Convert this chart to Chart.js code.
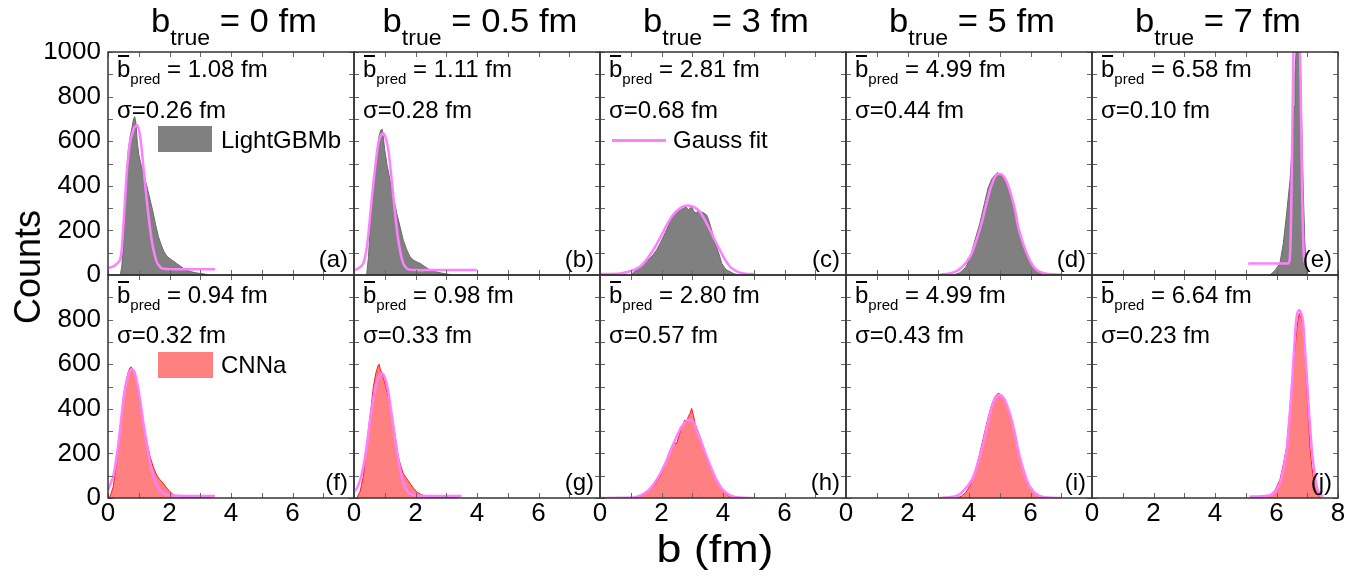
<!DOCTYPE html>
<html>
<head>
<meta charset="utf-8">
<script src="https://cdn.jsdelivr.net/npm/chart.js@4.4.1/dist/chart.umd.min.js"></script>
<style>
  body { margin: 0; background: #fff; }
  #wrap { position: relative; width: 1372px; height: 577px; overflow: hidden;
          font-family: 'Liberation Sans', Arial, Helvetica, sans-serif; color: #000; }
  #wrap canvas { position: absolute; }
  .txt { position: absolute; white-space: nowrap; line-height: 1; }
  .title { font-size: 33px; text-align: center; transform: scaleX(1.05); transform-origin: 50% 0; }
  .tsub { font-size: 22px; position: relative; top: 13px; }
  .note { font-size: 24px; }
  .ob { position: relative; }
  .ob::before { content: ''; position: absolute; left: 1px; right: 1px; top: 0; border-top: 2px solid #000; }
  .psub { font-size: 15px; position: relative; top: 7px; }
  .letter { font-size: 24px; text-align: right; }
  .box { position: absolute; }
</style>
</head>
<body>
<div id="wrap"></div>
<script>
// ---- data: b (fm) and counts ----
const bTrue = ['0', '0.5', '3', '5', '7'];
const meanTop = ['1.08', '1.11', '2.81', '4.99', '6.58'];
const sigmaTop = ['0.26', '0.28', '0.68', '0.44', '0.10'];
const meanBottom = ['0.94', '0.98', '2.80', '4.99', '6.64'];
const sigmaBottom = ['0.32', '0.33', '0.57', '0.43', '0.23'];
const lettersTop = ['a', 'b', 'c', 'd', 'e'];
const lettersBottom = ['f', 'g', 'h', 'i', 'j'];
const xTicks = [0, 2, 4, 6, 8];
const yTicks = [0, 200, 400, 600, 800, 1000];

// LightGBMb histograms + Gauss fits (top row)
const aHistX = [0.40,0.45,0.50,0.55,0.61,0.66,0.72,0.78,0.83,0.87,0.91,0.95,1.00,1.09,1.18,1.27,1.37,1.46,1.55,1.64,1.73,1.82,1.91,2.00,2.10,2.23,2.35,2.45,2.56,2.70,2.85,3.00,3.15,3.30];
const aHistY = [0,40,130,290,460,560,620,660,700,710,680,600,540,486,440,395,336,285,225,172,135,105,85,75,65,52,40,30,22,15,10,7,4,0];
const aFitX = [0.00,0.20,0.39,0.45,0.50,0.55,0.61,0.67,0.72,0.77,0.85,0.95,1.02,1.09,1.17,1.26,1.34,1.42,1.50,1.58,1.66,1.75,1.90,2.20,2.60,3.00,3.48];
const aFitY = [30,40,67,120,217,330,460,545,600,625,660,672,640,570,460,336,240,157,100,60,42,30,27,26,26,26,26];

const bHistX = [0.41,0.47,0.52,0.58,0.63,0.68,0.74,0.81,0.87,0.92,0.96,1.00,1.08,1.17,1.28,1.39,1.50,1.60,1.71,1.82,1.95,2.05,2.15,2.30,2.47,2.65,2.80,3.00,3.20];
const bHistY = [0,80,200,320,400,456,540,620,650,653,610,560,490,426,350,277,215,157,115,82,65,58,52,38,22,15,10,5,0];
const bFitX = [0.00,0.15,0.30,0.40,0.47,0.55,0.63,0.71,0.79,0.87,0.95,1.03,1.12,1.20,1.28,1.36,1.44,1.52,1.60,1.68,1.77,2.00,2.50,3.00,3.50,3.99];
const bFitY = [22,30,52,110,187,300,411,510,590,625,635,615,560,460,351,245,157,95,52,35,25,22,22,22,22,22];

const cHistX = [0.98,1.10,1.30,1.45,1.63,1.75,1.84,1.95,2.06,2.17,2.28,2.38,2.49,2.60,2.71,2.80,2.87,2.93,2.98,3.05,3.14,3.20,3.25,3.35,3.47,3.55,3.63,3.71,3.79,3.88,3.96,4.04,4.12,4.23,4.34,4.50];
const cHistY = [0,12,37,55,75,95,112,140,172,205,239,262,277,290,299,305,291,300,306,285,277,295,284,280,269,240,202,165,127,90,52,35,22,15,7,0];
const cFitX = [0.00,0.65,1.00,1.30,1.52,1.73,1.95,2.17,2.38,2.60,2.76,2.93,3.09,3.25,3.42,3.58,3.74,3.90,4.06,4.23,4.40,4.55,4.75,5.00];
const cFitY = [4,7,18,37,70,112,165,224,270,299,310,311,302,284,245,202,155,112,70,37,20,10,6,4];

const dHistX = [3.50,3.70,3.90,4.05,4.20,4.35,4.50,4.62,4.74,4.85,4.93,4.96,5.00,5.08,5.17,5.28,5.39,5.50,5.60,5.72,5.85,6.00,6.15,6.30,6.50];
const dHistY = [0,10,35,85,160,230,320,390,430,450,460,452,455,448,430,395,351,290,217,150,100,55,30,12,0];
const dFitX = [3.06,3.40,3.65,3.90,4.09,4.25,4.41,4.55,4.68,4.78,4.85,4.93,5.01,5.09,5.17,5.28,5.39,5.50,5.60,5.74,5.88,6.00,6.15,6.30,6.48,6.75,7.01];
const dFitY = [2,8,22,55,97,160,232,310,381,420,441,452,453,448,434,400,351,290,217,150,97,60,30,15,7,3,2];

const eHistX = [5.79,5.95,6.11,6.22,6.33,6.44,6.52,6.57,6.60,6.64,6.70,6.76,6.80,6.84,6.87,6.92,6.98];
const eHistY = [0,20,52,140,277,425,605,755,904,1010,1150,1080,820,560,380,150,0];
const eFitX = [5.08,5.50,6.00,6.38,6.42,6.45,6.48,6.51,6.54,6.57,6.62,6.67,6.72,6.76,6.79,6.82,6.85,6.88,6.91,6.95];
const eFitY = [52,52,52,52,60,120,300,600,900,1150,1400,1450,1300,1050,800,500,250,110,60,52];

// CNNa histograms + Gauss fits (bottom row)
const fHistX = [0.04,0.10,0.17,0.25,0.34,0.42,0.50,0.58,0.66,0.72,0.75,0.80,0.88,0.94,0.99,1.07,1.15,1.26,1.37,1.47,1.58,1.69,1.80,1.91,2.02,2.12,2.23,2.40,2.60,2.80,3.00,3.20,3.40];
const fHistY = [0,20,51,130,245,350,454,520,566,585,588,575,559,520,469,400,335,255,185,140,103,82,66,45,28,15,9,4,2,3,3,2,0];
const fFitX = [0.00,0.17,0.34,0.42,0.50,0.58,0.66,0.72,0.79,0.86,0.93,1.01,1.09,1.17,1.26,1.34,1.42,1.50,1.58,1.69,1.80,2.02,2.50,3.00,3.48];
const fFitY = [36,96,245,345,439,510,552,572,578,565,529,470,395,320,245,180,126,88,58,35,21,12,9,9,9];

const gHistX = [0.09,0.20,0.30,0.39,0.47,0.55,0.63,0.71,0.79,0.82,0.85,0.90,0.95,1.03,1.12,1.20,1.28,1.36,1.44,1.52,1.60,1.71,1.82,1.93,2.04,2.15,2.25,2.40,2.58,2.80,3.00,3.20,3.40];
const gHistY = [0,30,96,200,305,400,499,560,596,600,581,560,544,500,454,400,335,260,185,145,111,88,66,45,28,18,12,6,3,3,3,2,0];
const gFitX = [0.00,0.10,0.20,0.28,0.36,0.44,0.52,0.60,0.68,0.76,0.85,0.92,0.99,1.06,1.14,1.22,1.30,1.39,1.47,1.55,1.63,1.71,1.82,1.93,2.20,2.60,3.00,3.50];
const gFitY = [28,45,81,125,185,260,350,420,484,530,552,559,545,514,455,380,300,215,150,96,60,36,20,13,10,9,9,9];

const hHistX = [1.08,1.25,1.41,1.57,1.73,1.84,1.95,2.06,2.17,2.25,2.33,2.41,2.49,2.57,2.66,2.71,2.76,2.82,2.87,2.93,2.98,3.04,3.09,3.17,3.25,3.33,3.41,3.50,3.58,3.66,3.74,3.82,3.90,3.98,4.07,4.15,4.23,4.40];
const hHistY = [0,6,13,30,51,72,96,130,170,205,230,245,245,280,320,335,350,340,365,380,402,370,335,305,275,240,200,170,141,115,96,72,51,35,21,12,6,0];
const hFitX = [0.00,1.08,1.30,1.52,1.68,1.84,2.00,2.17,2.33,2.49,2.65,2.82,2.93,3.04,3.14,3.30,3.47,3.63,3.79,3.95,4.12,4.28,4.45,4.70,4.99];
const hFitY = [0,2,10,28,50,81,120,170,225,275,320,347,350,342,305,250,185,130,81,45,21,9,3,1,0];

const iHistX = [3.60,3.75,3.90,4.05,4.20,4.35,4.50,4.62,4.74,4.85,4.95,5.01,5.08,5.17,5.28,5.39,5.50,5.60,5.74,5.88,6.00,6.15,6.30,6.45];
const iHistY = [0,8,25,60,120,200,290,360,420,455,470,465,458,440,400,350,290,215,145,82,50,25,10,0];
const iFitX = [3.06,3.40,3.65,3.90,4.09,4.25,4.41,4.55,4.68,4.78,4.85,4.93,5.01,5.09,5.17,5.28,5.39,5.50,5.60,5.74,5.88,6.00,6.15,6.30,6.48,6.75,7.01];
const iFitY = [0,4,13,45,81,140,215,300,380,425,447,458,462,455,439,400,350,285,215,140,81,45,21,9,3,1,0];

const jHistX = [5.14,5.50,5.79,5.95,6.11,6.22,6.33,6.41,6.49,6.58,6.66,6.70,6.74,6.80,6.87,6.93,6.98,7.04,7.09,7.15,7.22,7.30,7.41,7.46];
const jHistY = [0,5,13,35,81,150,230,360,499,640,753,800,828,810,768,640,499,360,230,140,66,30,6,0];
const jFitX = [5.12,5.50,5.79,5.95,6.11,6.22,6.33,6.41,6.49,6.56,6.63,6.68,6.74,6.80,6.87,6.93,7.00,7.07,7.15,7.23,7.31,7.40,7.52];
const jFitY = [6,8,13,30,66,130,215,340,484,640,783,830,843,830,783,660,514,360,215,120,51,20,6];

const histX = [[aHistX, bHistX, cHistX, dHistX, eHistX], [fHistX, gHistX, hHistX, iHistX, jHistX]];
const histY = [[aHistY, bHistY, cHistY, dHistY, eHistY], [fHistY, gHistY, hHistY, iHistY, jHistY]];
const fitX = [[aFitX, bFitX, cFitX, dFitX, eFitX], [fFitX, gFitX, hFitX, iFitX, jFitX]];
const fitY = [[aFitY, bFitY, cFitY, dFitY, eFitY], [fFitY, gFitY, hFitY, iFitY, jFitY]];

// ---- layout ----
const PL = 108, PW = 246, PH = 223;
const rowTop = [52, 275];
const AXW = 110, AXH = 50, PADT = 10, PADR = 14;
const FONT = "'Liberation Sans', Arial, Helvetica, sans-serif";
const GREY = '#808080', RED = '#ff8080', PINK = '#ff80ff';

const wrap = document.getElementById('wrap');

function pts(xs, ys) {
  return xs.map((x, i) => ({ x: x, y: ys[i] }));
}

// frame + inward ticks on all four sides
const frameTicks = {
  id: 'frameTicks',
  afterDatasetsDraw(chart) {
    const { ctx, chartArea: a, scales: { x, y } } = chart;
    ctx.save();
    ctx.strokeStyle = '#666';
    ctx.lineWidth = 1;
    ctx.beginPath();
    for (let v = 0; v <= 8; v++) {
      const px = Math.round(x.getPixelForValue(v)) + 0.5;
      ctx.moveTo(px, a.bottom); ctx.lineTo(px, a.bottom - 5);
      ctx.moveTo(px, a.top); ctx.lineTo(px, a.top + 5);
    }
    for (let v = 0; v <= 1000; v += 100) {
      const py = Math.round(y.getPixelForValue(v)) + 0.5;
      ctx.moveTo(a.left, py); ctx.lineTo(a.left + 5, py);
      ctx.moveTo(a.right, py); ctx.lineTo(a.right - 5, py);
    }
    ctx.stroke();
    ctx.strokeStyle = '#333';
    ctx.lineWidth = 1.5;
    ctx.strokeRect(a.left, a.top, a.right - a.left, a.bottom - a.top);
    ctx.restore();
  }
};

function makePanel(r, c) {
  const cv = document.createElement('canvas');
  const w = AXW + PW + PADR, h = PADT + PH + AXH;
  cv.width = w; cv.height = h;
  cv.style.left = (PL + c * PW - AXW) + 'px';
  cv.style.top = (rowTop[r] - PADT) + 'px';
  wrap.appendChild(cv);

  new Chart(cv.getContext('2d'), {
    type: 'line',
    data: {
      datasets: [
        {
          data: pts(histX[r][c], histY[r][c]),
          backgroundColor: r === 0 ? GREY : RED,
          borderColor: r === 0 ? '#6a6a6a' : '#ff1a1a',
          borderWidth: 1,
          fill: 'origin',
          pointRadius: 0,
          tension: 0,
          order: 2
        },
        {
          data: pts(fitX[r][c], fitY[r][c]),
          borderColor: PINK,
          borderWidth: 2.5,
          fill: false,
          pointRadius: 0,
          tension: 0.2,
          order: 1
        }
      ]
    },
    options: {
      responsive: false,
      animation: false,
      devicePixelRatio: 1,
      layout: { padding: { top: PADT, right: PADR, bottom: 0, left: 0 } },
      plugins: { legend: { display: false }, tooltip: { enabled: false } },
      scales: {
        x: {
          type: 'linear', min: 0, max: 8,
          afterBuildTicks: s => { s.ticks = xTicks.map(v => ({ value: v })); },
          afterFit: s => { s.height = AXH; s.paddingLeft = 0; s.paddingRight = 0; },
          grid: { display: false, drawTicks: false },
          border: { display: false },
          ticks: {
            display: r === 1,
            padding: 0,
            color: '#000',
            maxRotation: 0,
            autoSkip: false,
            font: { family: FONT, size: 26 },
            callback: v => (v === 8 && c < 4) ? '' : v
          }
        },
        y: {
          min: 0, max: 1000,
          afterBuildTicks: s => { s.ticks = yTicks.map(v => ({ value: v })); },
          afterFit: s => { s.width = AXW; s.paddingTop = 0; s.paddingBottom = 0; },
          grid: { display: false, drawTicks: false },
          border: { display: false },
          ticks: {
            display: c === 0,
            padding: 7,
            color: '#000',
            autoSkip: false,
            font: { family: FONT, size: 26 },
            callback: v => (v === 1000 && r === 1) ? '' : v
          }
        }
      }
    },
    plugins: [frameTicks]
  });
}

function addText(cls, html, left, top, width) {
  const d = document.createElement('div');
  d.className = 'txt ' + cls;
  d.innerHTML = html;
  d.style.left = left + 'px';
  d.style.top = top + 'px';
  if (width) d.style.width = width + 'px';
  wrap.appendChild(d);
  return d;
}

for (let r = 0; r < 2; r++) {
  for (let c = 0; c < 5; c++) makePanel(r, c);
}

// titles, annotations, panel letters
for (let c = 0; c < 5; c++) {
  const x0 = PL + c * PW;
  addText('title', 'b<span class="tsub">true</span> = ' + bTrue[c] + ' fm', x0 + 3, 4, PW);
  for (let r = 0; r < 2; r++) {
    const mean = r === 0 ? meanTop[c] : meanBottom[c];
    const sig = r === 0 ? sigmaTop[c] : sigmaBottom[c];
    const off1 = r === 0 ? 4.5 : 7.5, off2 = r === 0 ? 45.5 : 47.5;
    addText('note', '<span class="ob">b</span><span class="psub">pred</span> = ' + mean + ' fm', x0 + 9, rowTop[r] + off1);
    addText('note', '\u03c3=' + sig + ' fm', x0 + 9, rowTop[r] + off2);
    const l = r === 0 ? lettersTop[c] : lettersBottom[c];
    addText('letter', '(' + l + ')', x0, rowTop[r] + 195, PW - 6);
  }
}

// in-panel legends
function addBox(left, top, w, h, color) {
  const b = document.createElement('div');
  b.className = 'box';
  Object.assign(b.style, { left: left + 'px', top: top + 'px', width: w + 'px', height: h + 'px', background: color });
  wrap.appendChild(b);
}
addBox(158, 126, 54, 26, GREY);
addText('note', 'LightGBMb', 221, 128);
addBox(612, 139, 54, 2.5, PINK);
addText('note', 'Gauss fit', 673, 128);
addBox(158, 352, 55, 26, RED);
addText('note', 'CNNa', 221, 353);

// axis titles
const yt = addText('', 'Counts', 27, 267);
Object.assign(yt.style, { fontSize: '36px', transform: 'translate(-50%, -50%) rotate(-90deg) scaleY(1.05)' });
const xt = addText('', 'b (fm)', 715, 548);
Object.assign(xt.style, { fontSize: '39px', transform: 'translate(-50%, -50%) scaleX(1.15)' });
</script>
</body>
</html>
